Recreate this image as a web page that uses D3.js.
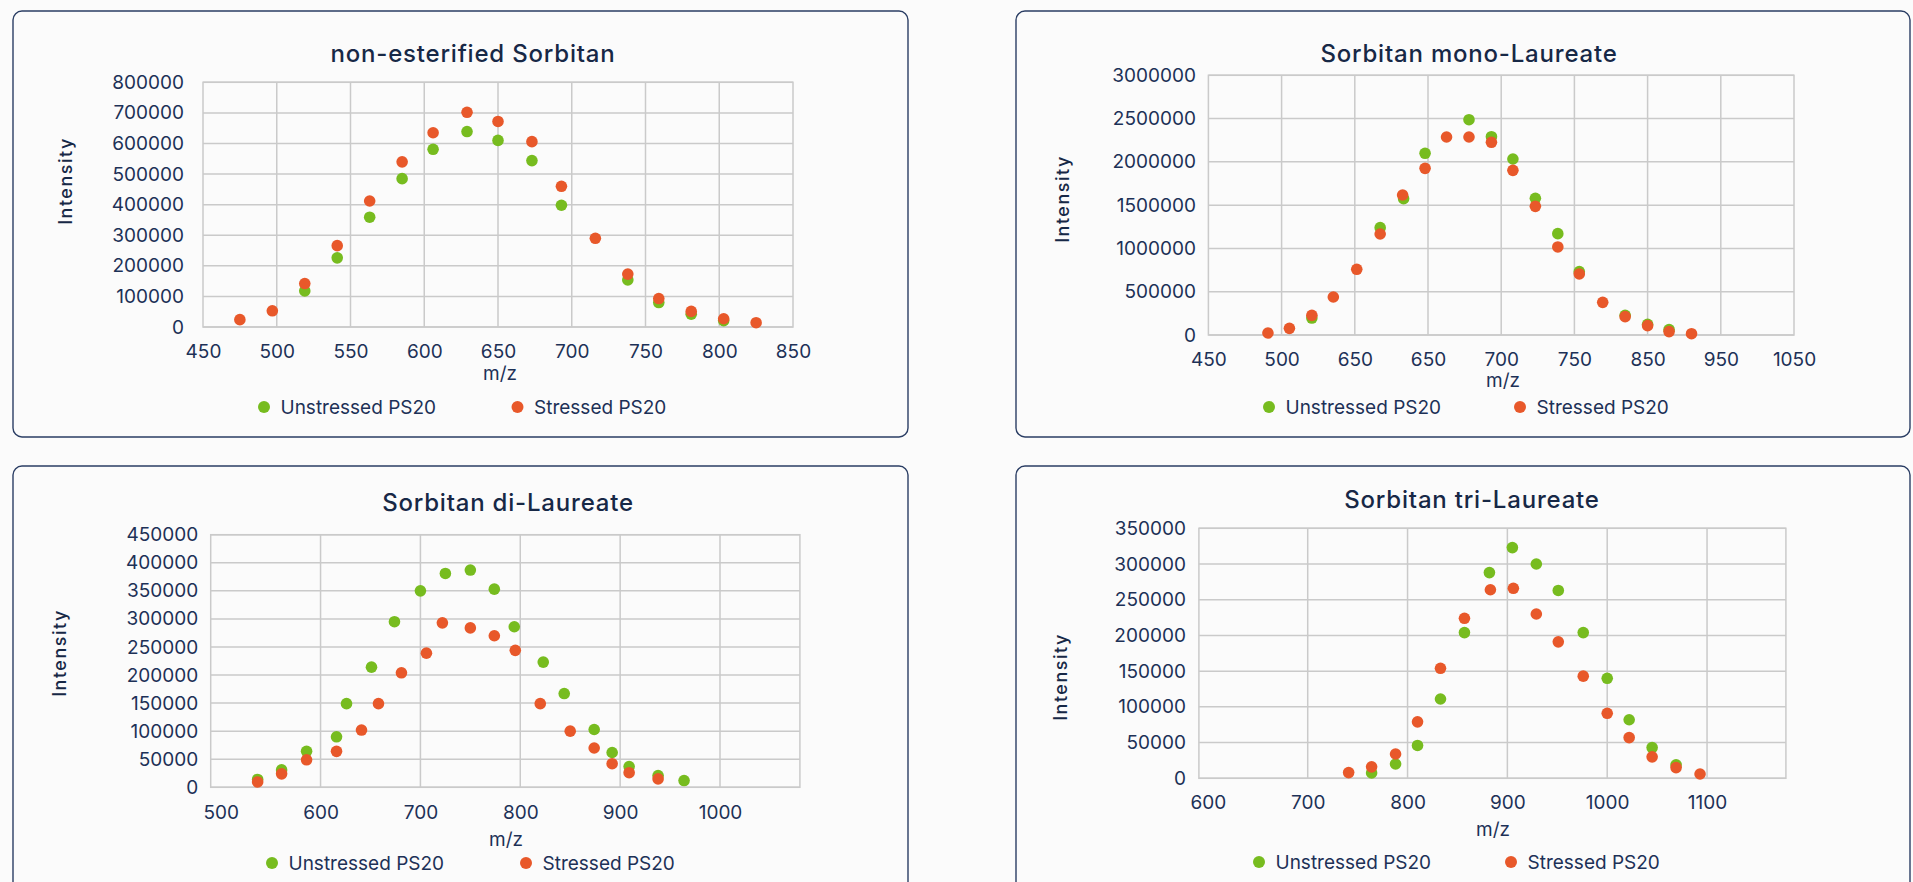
<!DOCTYPE html>
<html>
<head>
<meta charset="utf-8">
<script src="https://cdn.jsdelivr.net/npm/d3@7"></script>
<style>
  html, body { margin: 0; padding: 0; background: #fbfbfb; }
  svg text { font-family: Inter, "Noto Sans", sans-serif; fill: #1d3157; }
</style>
</head>
<body>
<div id="charts"></div>
<script>
// ---- data ----

// non-esterified Sorbitan
var nonEstUnstressedMz = [519, 541, 563, 585, 606, 629, 650, 673, 693, 738, 759, 781, 803];
var nonEstUnstressed = [118000, 226000, 359000, 485000, 581000, 639000, 610000, 544000, 398000, 154000, 80000, 42000, 21000];
var nonEstStressedMz = [475, 497, 519, 541, 563, 585, 606, 629, 650, 673, 693, 716, 738, 759, 781, 803, 825];
var nonEstStressed = [24000, 53000, 142000, 266000, 412000, 540000, 635000, 702000, 672000, 606000, 460000, 290000, 173000, 93000, 51000, 27000, 14000];
var nonEstXTicks = [450, 500, 550, 600, 650, 700, 750, 800, 850];
var nonEstYTicks = [0, 100000, 200000, 300000, 400000, 500000, 600000, 700000, 800000];

// Sorbitan mono-Laureate
var monoUnstressedMz = [556, 626, 650, 672, 717, 740, 762, 785, 808, 830, 877, 900, 922];
var monoUnstressed = [196000, 1240000, 1575000, 2099000, 2487000, 2291000, 2033000, 1579000, 1171000, 732000, 227000, 123000, 62000];
var monoStressedMz = [511, 533, 556, 578, 602, 626, 649, 672, 694, 717, 740, 762, 785, 808, 830, 854, 877, 900, 922, 945];
var monoStressed = [23000, 77000, 227000, 439000, 759000, 1167000, 1617000, 1925000, 2287000, 2287000, 2226000, 1902000, 1486000, 1017000, 705000, 377000, 212000, 108000, 39000, 15000];
var monoXTicks = [450, 525, 600, 675, 750, 825, 900, 975, 1050];
var monoXTickLabels = ["450", "500", "650", "650", "700", "750", "850", "950", "1050"];
var monoYTicks = [0, 500000, 1000000, 1500000, 2000000, 2500000, 3000000];

// Sorbitan di-Laureate
var diUnstressedMz = [537, 561, 586, 616, 626, 651, 674, 700, 725, 750, 774, 794, 823, 844, 874, 892, 909, 938, 964];
var diUnstressed = [14000, 31000, 64000, 90000, 149000, 214000, 295000, 350000, 381000, 387000, 353000, 286000, 223000, 167000, 103000, 62000, 37000, 21000, 12000];
var diStressedMz = [537, 561, 586, 616, 641, 658, 681, 706, 722, 750, 774, 795, 820, 850, 874, 892, 909, 938];
var diStressed = [9500, 24000, 49000, 64000, 102000, 149000, 204000, 239000, 293000, 284000, 270000, 244000, 149000, 100000, 70000, 42000, 26000, 15000];
var diXTicks = [500, 600, 700, 800, 900, 1000];
var diYTicks = [0, 50000, 100000, 150000, 200000, 250000, 300000, 350000, 400000, 450000];

// Sorbitan tri-Laureate
var triUnstressedMz = [764, 788, 810, 833, 857, 882, 905, 929, 951, 976, 1000, 1022, 1045, 1069];
var triUnstressed = [7500, 20000, 46000, 111000, 204000, 288000, 323000, 300000, 263000, 204000, 140000, 82000, 43000, 19000];
var triStressedMz = [741, 764, 788, 810, 833, 857, 883, 906, 929, 951, 976, 1000, 1022, 1045, 1069, 1093];
var triStressed = [8000, 16000, 34000, 79000, 154000, 224000, 264000, 266000, 230000, 191000, 143000, 91000, 57000, 30000, 15000, 6000];
var triXTicks = [600, 700, 800, 900, 1000, 1100];
var triYTicks = [0, 50000, 100000, 150000, 200000, 250000, 300000, 350000];

var seriesNames = ["Unstressed PS20", "Stressed PS20"];
var seriesColors = ["#77bc1f", "#e8582a"];

function pts(xs, ys) { return xs.map(function (d, i) { return { x: d, y: ys[i] }; }); }

// ---- layout of each panel (page pixels) ----
var charts = [
  {
    title: "non-esterified Sorbitan", panel: [13, 11, 895, 426], titleX: 473, titleY: 53,
    plot: { left: 203, right: 793, top: 82.3, bottom: 327 }, xDomain: [450, 850], yDomain: [0, 800000],
    xTicks: nonEstXTicks, yTicks: nonEstYTicks, yPad: 19, xLabelY: 351,
    yTitle: [66, 181], xTitle: [500, 373], legendY: 407, legendX: [264, 517.5],
    series: [pts(nonEstUnstressedMz, nonEstUnstressed), pts(nonEstStressedMz, nonEstStressed)]
  },
  {
    title: "Sorbitan mono-Laureate", panel: [1016, 11, 894, 426], titleX: 1469, titleY: 53,
    plot: { left: 1208.4, right: 1794, top: 75.3, bottom: 335 }, xDomain: [450, 1050], yDomain: [0, 3000000],
    xTicks: monoXTicks, xLabels: monoXTickLabels, yTicks: monoYTicks, yPad: 12.5, xLabelY: 359,
    yTitle: [1063, 199], xTitle: [1503, 380], legendY: 407, legendX: [1269, 1520],
    series: [pts(monoUnstressedMz, monoUnstressed), pts(monoStressedMz, monoStressed)]
  },
  {
    title: "Sorbitan di-Laureate", panel: [13, 466, 895, 440], titleX: 508, titleY: 502,
    plot: { left: 210.7, right: 799.9, top: 534.7, bottom: 787.3 }, xDomain: [490, 1080], yDomain: [0, 450000],
    xTicks: diXTicks, yTicks: diYTicks, yPad: 12.5, xLabelY: 812,
    yTitle: [60, 653], xTitle: [506, 839], legendY: 863, legendX: [272, 526],
    series: [pts(diUnstressedMz, diUnstressed), pts(diStressedMz, diStressed)]
  },
  {
    title: "Sorbitan tri-Laureate", panel: [1016, 466, 894, 440], titleX: 1472, titleY: 499,
    plot: { left: 1198.9, right: 1785.9, top: 528.3, bottom: 778.3 }, xDomain: [591, 1179], yDomain: [0, 350000],
    xTicks: triXTicks, yTicks: triYTicks, yPad: 13, xLabelY: 802,
    yTitle: [1061, 677], xTitle: [1493, 829], legendY: 862, legendX: [1259, 1511],
    series: [pts(triUnstressedMz, triUnstressed), pts(triStressedMz, triStressed)]
  }
];

var svg = d3.select("#charts")
  .append("svg")
  .attr("width", 1913)
  .attr("height", 882);

charts.forEach(drawChart);

function drawChart(c) {
  var g = svg.append("g");
  var p = c.plot;

  // rounded panel outline
  g.append("rect")
    .attr("x", c.panel[0]).attr("y", c.panel[1])
    .attr("width", c.panel[2]).attr("height", c.panel[3])
    .attr("rx", 9)
    .attr("fill", "#fbfbfb")
    .attr("stroke", "#2b3e64")
    .attr("stroke-width", 1.4);

  var x = d3.scaleLinear().domain(c.xDomain).range([p.left, p.right]);
  var y = d3.scaleLinear().domain(c.yDomain).range([p.bottom, p.top]);

  // gridlines (skip a vertical one that would double the frame)
  g.append("g").selectAll("line")
    .data(c.yTicks)
    .enter().append("line")
    .attr("x1", p.left).attr("x2", p.right)
    .attr("y1", function (d) { return y(d); })
    .attr("y2", function (d) { return y(d); })
    .attr("stroke", "#cacaca").attr("stroke-width", 1.5);

  g.append("g").selectAll("line")
    .data(c.xTicks.filter(function (d) { return x(d) - p.left > 12 && p.right - x(d) > 12; }))
    .enter().append("line")
    .attr("x1", function (d) { return x(d); })
    .attr("x2", function (d) { return x(d); })
    .attr("y1", p.top).attr("y2", p.bottom)
    .attr("stroke", "#cacaca").attr("stroke-width", 1.5);

  g.append("rect")
    .attr("x", p.left).attr("y", p.top)
    .attr("width", p.right - p.left).attr("height", p.bottom - p.top)
    .attr("fill", "none")
    .attr("stroke", "#cacaca").attr("stroke-width", 1.5);

  // y axis labels
  var yAxis = g.append("g")
    .attr("transform", "translate(" + p.left + ",0)")
    .call(d3.axisLeft(y).tickValues(c.yTicks).tickSize(0).tickPadding(c.yPad).tickFormat(d3.format("d")));
  yAxis.select(".domain").remove();
  yAxis.selectAll("text").attr("font-size", "19px").attr("font-family", null).attr("fill", "#1d3157");

  // x axis labels
  var xAxis = g.append("g")
    .attr("transform", "translate(0," + p.bottom + ")")
    .call(d3.axisBottom(x).tickValues(c.xTicks).tickSize(0)
      .tickFormat(function (d, i) { return c.xLabels ? c.xLabels[i] : d; }));
  xAxis.select(".domain").remove();
  xAxis.selectAll("text")
    .attr("y", c.xLabelY - p.bottom)
    .attr("dy", "0.36em")
    .attr("font-size", "19px").attr("font-family", null).attr("fill", "#1d3157");

  // titles
  g.append("text")
    .attr("x", c.titleX).attr("y", c.titleY).attr("dy", "0.36em")
    .attr("text-anchor", "middle")
    .attr("font-size", "24px").attr("font-weight", 500)
    .attr("letter-spacing", "0.8px")
    .style("fill", "#172846")
    .text(c.title);

  g.append("text")
    .attr("transform", "translate(" + c.yTitle[0] + "," + c.yTitle[1] + ") rotate(-90)")
    .attr("dy", "0.36em")
    .attr("text-anchor", "middle")
    .attr("font-size", "18px").attr("font-weight", 500)
    .attr("letter-spacing", "1.5px")
    .style("fill", "#172846")
    .text("Intensity");

  g.append("text")
    .attr("x", c.xTitle[0]).attr("y", c.xTitle[1]).attr("dy", "0.36em")
    .attr("text-anchor", "middle")
    .attr("font-size", "19px")
    .text("m/z");

  // markers: unstressed first so stressed sits on top
  c.series.forEach(function (s, k) {
    g.append("g").selectAll("circle")
      .data(s)
      .enter().append("circle")
      .attr("cx", function (d) { return x(d.x); })
      .attr("cy", function (d) { return y(d.y); })
      .attr("r", 5.8)
      .attr("fill", seriesColors[k]);
  });

  // legend
  seriesNames.forEach(function (name, k) {
    g.append("circle")
      .attr("cx", c.legendX[k]).attr("cy", c.legendY)
      .attr("r", 6)
      .attr("fill", seriesColors[k]);
    g.append("text")
      .attr("x", c.legendX[k] + 16.5).attr("y", c.legendY).attr("dy", "0.36em")
      .attr("font-size", "19px")
      .text(name);
  });
}
</script>
</body>
</html>
